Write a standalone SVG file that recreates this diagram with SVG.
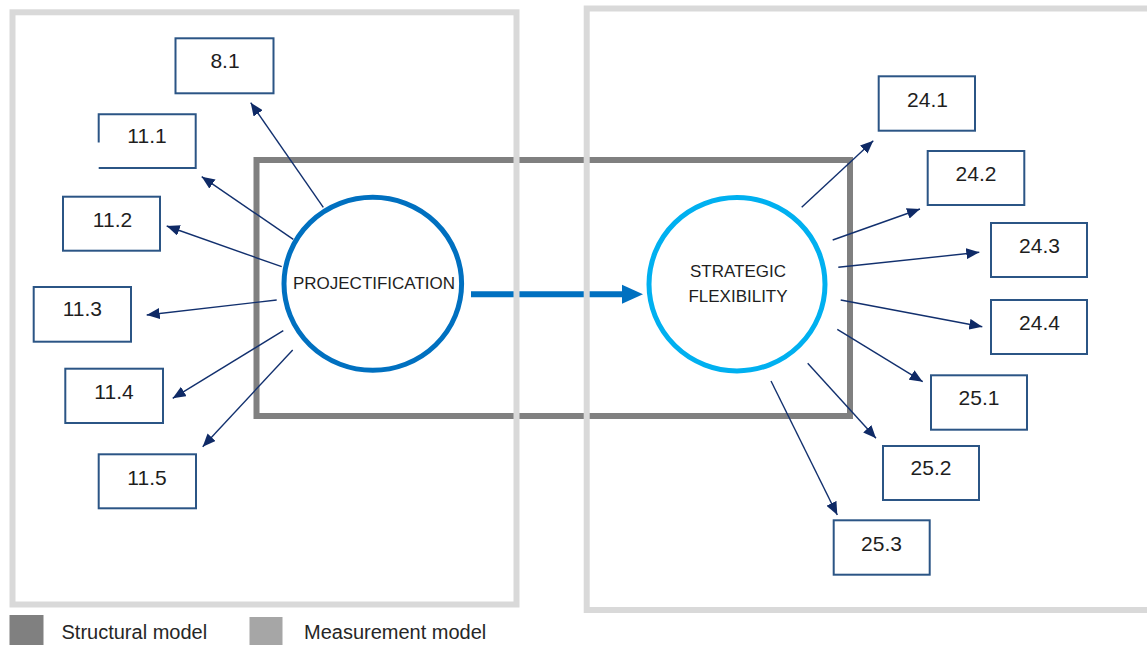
<svg xmlns="http://www.w3.org/2000/svg" width="1147" height="645" viewBox="0 0 1147 645">
  <style>
    .frame-structural { fill: none; stroke: #808080; stroke-width: 6; }
    .frame-measure { fill: none; stroke: #d9d9d9; stroke-width: 6; }
    .indicator rect, .indicator path { fill: #ffffff; stroke: #2b5585; stroke-width: 2; }
    .indicator text { font-family: "Liberation Sans", Arial, sans-serif; font-size: 21px; fill: #1e1e1e; text-anchor: middle; }
    .latent text { font-family: "Liberation Sans", Arial, sans-serif; font-size: 17px; fill: #1e1e1e; text-anchor: middle; }
    .loading { stroke: #12306e; stroke-width: 1.4; fill: none; marker-end: url(#tip); }
    .legend text { font-family: "Liberation Sans", Arial, sans-serif; font-size: 20px; fill: #262626; }
  </style>
  <defs>
    <marker id="tip" viewBox="0 0 13 11" refX="13" refY="5.5" markerWidth="13" markerHeight="11" markerUnits="userSpaceOnUse" orient="auto">
      <path d="M0,0 L13,5.5 L0,11 z" fill="#0f2a66"/>
    </marker>
  </defs>

  <rect width="1147" height="645" fill="#ffffff"/>

  <!-- structural model frame -->
  <rect class="frame-structural" x="256.5" y="160" width="593.5" height="256"/>

  <!-- path between the two constructs -->
  <g id="structural-path">
    <line x1="471" y1="294.3" x2="624" y2="294.3" stroke="#0070c0" stroke-width="6"/>
    <polygon points="622,284.8 643,294.3 622,303.8" fill="#0070c0"/>
  </g>

  <!-- measurement model frames -->
  <rect class="frame-measure" x="12.5" y="12.3" width="504" height="592.2"/>
  <rect class="frame-measure" x="586.7" y="8.5" width="580" height="601.5"/>

  <!-- loadings -->
  <g id="connectors">
    <line class="loading" x1="323.3" y1="207.3" x2="250.7" y2="102.7"/>
    <line class="loading" x1="293.3" y1="239.3" x2="201.7" y2="176.7"/>
    <line class="loading" x1="281.7" y1="266.7" x2="166.7" y2="226"/>
    <line class="loading" x1="276.7" y1="300" x2="146.7" y2="315"/>
    <line class="loading" x1="283.3" y1="330.7" x2="172.7" y2="398.3"/>
    <line class="loading" x1="292.7" y1="350" x2="202.7" y2="446.7"/>
    <line class="loading" x1="801.7" y1="207.3" x2="873.3" y2="140.7"/>
    <line class="loading" x1="832.7" y1="240" x2="920" y2="209"/>
    <line class="loading" x1="838.3" y1="267.3" x2="979.3" y2="252.3"/>
    <line class="loading" x1="840.7" y1="300" x2="982.3" y2="326.7"/>
    <line class="loading" x1="837.3" y1="329.3" x2="922.7" y2="381.7"/>
    <line class="loading" x1="807.7" y1="363.3" x2="876" y2="438.3"/>
    <line class="loading" x1="771" y1="381" x2="837.3" y2="515"/>
  </g>

  <!-- latent constructs -->
  <g id="projectification" class="latent">
    <ellipse cx="372.8" cy="283.8" rx="88.8" ry="86.5" fill="none" stroke="#0070c0" stroke-width="5"/>
    <text x="374" y="289">PROJECTIFICATION</text>
  </g>
  <g id="strategic-flexibility" class="latent">
    <ellipse cx="737" cy="284.2" rx="88" ry="86.7" fill="none" stroke="#00b0f0" stroke-width="5"/>
    <text x="738" y="277">STRATEGIC</text>
    <text x="738" y="302">FLEXIBILITY</text>
  </g>

  <!-- indicators of projectification -->
  <g id="ind-8-1" class="indicator">
    <rect x="175.5" y="38.3" width="98" height="55"/>
    <text x="225" y="68">8.1</text>
  </g>
  <g id="ind-11-1" class="indicator">
    <path d="M98.7,142.5 V114.3 H195.7 V168 H98.7"/>
    <text x="147" y="143">11.1</text>
  </g>
  <g id="ind-11-2" class="indicator">
    <rect x="63" y="196.7" width="97" height="54"/>
    <text x="112.5" y="227">11.2</text>
  </g>
  <g id="ind-11-3" class="indicator">
    <rect x="33.7" y="287" width="97.3" height="54.7"/>
    <text x="82.3" y="316">11.3</text>
  </g>
  <g id="ind-11-4" class="indicator">
    <rect x="65.3" y="368.7" width="97.7" height="54.3"/>
    <text x="114" y="399">11.4</text>
  </g>
  <g id="ind-11-5" class="indicator">
    <rect x="98.7" y="454.3" width="97.3" height="54"/>
    <text x="147" y="484.5">11.5</text>
  </g>

  <!-- indicators of strategic flexibility -->
  <g id="ind-24-1" class="indicator">
    <rect x="878.7" y="76.3" width="96.3" height="54.4"/>
    <text x="927.5" y="107">24.1</text>
  </g>
  <g id="ind-24-2" class="indicator">
    <rect x="927.7" y="151" width="96.6" height="54"/>
    <text x="976" y="181">24.2</text>
  </g>
  <g id="ind-24-3" class="indicator">
    <rect x="991" y="223" width="96" height="54"/>
    <text x="1039.5" y="253">24.3</text>
  </g>
  <g id="ind-24-4" class="indicator">
    <rect x="991" y="300" width="96" height="54"/>
    <text x="1039.5" y="329.5">24.4</text>
  </g>
  <g id="ind-25-1" class="indicator">
    <rect x="931" y="375.3" width="96" height="54.4"/>
    <text x="979" y="405">25.1</text>
  </g>
  <g id="ind-25-2" class="indicator">
    <rect x="883" y="446" width="96" height="54"/>
    <text x="931" y="474.5">25.2</text>
  </g>
  <g id="ind-25-3" class="indicator">
    <rect x="833.7" y="520.3" width="96" height="54.4"/>
    <text x="881.5" y="550.5">25.3</text>
  </g>

  <!-- legend -->
  <g id="legend" class="legend">
    <rect x="9.5" y="615" width="34" height="32" fill="#808080"/>
    <text x="61.5" y="639">Structural model</text>
    <rect x="249.5" y="617" width="33" height="30" fill="#a6a6a6"/>
    <text x="304" y="639">Measurement model</text>
  </g>
</svg>
